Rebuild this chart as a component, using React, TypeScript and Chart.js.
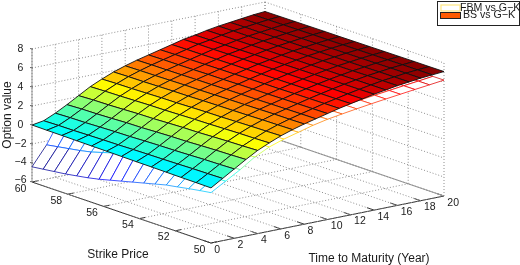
import React, { useEffect, useRef } from "react";
import { Chart, registerables } from "chart.js";

Chart.register(...registerables);

const bsStrikes = [50, 50.83, 51.67, 52.5, 53.33, 54.17, 55, 55.83, 56.67, 57.5, 58.33, 59.17, 60];
const bsMaturities = [0, 1, 2, 3, 4, 5, 6, 7, 8, 9, 10, 11, 12, 13, 14, 15, 16, 17, 18, 19, 20];
const fbmStrikes = [50, 50.625, 51.25, 51.875, 52.5, 53.125, 53.75, 54.375, 55, 55.625, 56.25, 56.875, 57.5, 58.125, 58.75, 59.375, 60];
const fbmMaturities = [0, 1.25, 2.5, 3.75, 5, 6.25, 7.5, 8.75, 10, 11.25, 12.5, 13.75, 15, 16.25, 17.5, 18.75, 20];
const strikeTicks = [50, 52, 54, 56, 58, 60];
const maturityTicks = [0, 2, 4, 6, 8, 10, 12, 14, 16, 18, 20];
const valueTicks = [-6, -4, -2, 0, 2, 4, 6, 8];

// "BS vs G-K": rows follow bsStrikes, columns follow bsMaturities
const bsVsGk = [
  [-.2,.55,1.3,2.05,2.75,3.3,3.8,4.2,4.55,4.85,5.15,5.45,5.7,5.95,6.2,6.4,6.6,6.75,6.9,7.0,7.1],
  [-.18,.52,1.25,1.99,2.69,3.25,3.76,4.17,4.52,4.83,5.13,5.43,5.68,5.94,6.18,6.39,6.59,6.74,6.89,6.99,7.09],
  [-.17,.5,1.22,1.95,2.65,3.23,3.73,4.15,4.51,4.81,5.11,5.41,5.67,5.93,6.17,6.38,6.58,6.73,6.88,6.99,7.09],
  [-.15,.46,1.16,1.89,2.59,3.18,3.69,4.11,4.48,4.79,5.09,5.39,5.65,5.91,6.15,6.36,6.56,6.71,6.86,6.98,7.08],
  [-.13,.43,1.11,1.82,2.52,3.13,3.64,4.08,4.45,4.76,5.06,5.36,5.63,5.9,6.13,6.35,6.55,6.7,6.85,6.97,7.07],
  [-.12,.41,1.08,1.79,2.49,3.1,3.62,4.06,4.43,4.75,5.05,5.35,5.62,5.89,6.12,6.34,6.54,6.69,6.84,6.96,7.06],
  [-.1,.38,1.03,1.73,2.43,3.05,3.58,4.03,4.4,4.73,5.03,5.33,5.6,5.88,6.1,6.33,6.53,6.68,6.83,6.95,7.05],
  [-.08,.34,.97,1.66,2.36,3.0,3.53,3.99,4.37,4.7,5.0,5.3,5.58,5.86,6.08,6.31,6.51,6.66,6.81,6.94,7.04],
  [-.07,.32,.94,1.63,2.33,2.98,3.51,3.97,4.36,4.69,4.99,5.29,5.57,5.85,6.07,6.3,6.5,6.65,6.8,6.94,7.04],
  [-.05,.29,.89,1.56,2.26,2.93,3.46,3.94,4.33,4.66,4.96,5.26,5.55,5.84,6.05,6.29,6.49,6.64,6.79,6.93,7.03],
  [-.03,.25,.83,1.5,2.2,2.88,3.42,3.9,4.3,4.64,4.94,5.24,5.53,5.82,6.03,6.27,6.47,6.62,6.77,6.92,7.02],
  [-.02,.24,.81,1.47,2.17,2.85,3.4,3.89,4.28,4.63,4.93,5.23,5.52,5.82,6.02,6.27,6.47,6.62,6.77,6.91,7.01],
  [0,.2,.75,1.4,2.1,2.8,3.35,3.85,4.25,4.6,4.9,5.2,5.5,5.8,6.0,6.25,6.45,6.6,6.75,6.9,7.0],
];

// "FBM vs G-K": rows follow fbmStrikes, columns follow fbmMaturities
const fbmVsGk = [
  [-.7,.2,1.1,2.12,2.87,3.39,3.8,4.22,4.55,4.8,5.03,5.25,5.45,5.64,5.83,6.01,6.2],
  [-.88,.15,1.04,2.05,2.81,3.34,3.76,4.18,4.52,4.77,5.01,5.24,5.44,5.63,5.82,6.0,6.19],
  [-1.08,.1,.98,1.98,2.75,3.29,3.72,4.15,4.49,4.75,4.99,5.22,5.43,5.63,5.82,6.0,6.19],
  [-1.3,.06,.92,1.92,2.69,3.25,3.69,4.11,4.46,4.72,4.97,5.21,5.42,5.62,5.81,5.99,6.18],
  [-1.5,.02,.86,1.85,2.63,3.2,3.65,4.08,4.43,4.69,4.95,5.2,5.41,5.62,5.81,5.99,6.18],
  [-1.8,-.03,.8,1.78,2.57,3.15,3.61,4.04,4.39,4.67,4.93,5.18,5.4,5.61,5.8,5.98,6.17],
  [-2.1,-.08,.74,1.71,2.51,3.1,3.58,4.01,4.36,4.64,4.91,5.17,5.39,5.6,5.79,5.97,6.16],
  [-2.4,-.15,.68,1.64,2.45,3.05,3.54,3.97,4.33,4.61,4.89,5.16,5.38,5.6,5.79,5.97,6.16],
  [-2.7,-.25,.62,1.57,2.39,3.0,3.5,3.94,4.3,4.59,4.88,5.15,5.38,5.59,5.78,5.96,6.15],
  [-3.0,-.5,.57,1.51,2.33,2.96,3.46,3.9,4.27,4.56,4.86,5.13,5.37,5.58,5.77,5.95,6.14],
  [-3.3,-.85,.51,1.44,2.26,2.91,3.43,3.87,4.24,4.53,4.84,5.12,5.36,5.58,5.77,5.95,6.14],
  [-3.55,-1.2,.45,1.37,2.2,2.86,3.39,3.83,4.21,4.5,4.82,5.11,5.35,5.57,5.76,5.94,6.13],
  [-3.75,-1.55,.39,1.3,2.14,2.81,3.35,3.8,4.18,4.48,4.8,5.09,5.34,5.57,5.76,5.94,6.13],
  [-3.95,-1.8,.33,1.23,2.08,2.76,3.31,3.76,4.14,4.45,4.78,5.08,5.33,5.56,5.75,5.93,6.12],
  [-4.1,-2.0,.27,1.17,2.02,2.72,3.28,3.73,4.11,4.42,4.76,5.07,5.32,5.55,5.74,5.92,6.11],
  [-4.25,-2.2,.21,1.1,1.96,2.67,3.24,3.69,4.08,4.4,4.74,5.05,5.31,5.55,5.74,5.92,6.11],
  [-4.4,-2.4,.15,1.03,1.9,2.62,3.2,3.66,4.05,4.37,4.72,5.04,5.3,5.54,5.73,5.91,6.1],
];

const FONT = '"Liberation Sans", Arial, sans-serif';
const MINUS = "\u2212";

// Oblique projection of (strike, maturity, value) onto the flat chart scales
function project(s: number, t: number, z: number) {
  return {
    x: 32 + 17.9 * (60 - s) + 11.65 * t,
    y: 182 + 6.1 * (60 - s) - 2.35 * t - 9.5 * (z + 6),
  };
}

const GAP = { x: NaN, y: NaN };

function dottedLines() {
  const pts: { x: number; y: number }[] = [];
  const add = (a: any, b: any) => pts.push(a, b, GAP);
  for (const s of strikeTicks) {
    add(project(s, 0, -6), project(s, 20, -6));
    add(project(s, 20, -6), project(s, 20, 8));
  }
  for (const t of maturityTicks) {
    add(project(50, t, -6), project(60, t, -6));
    add(project(60, t, -6), project(60, t, 8));
  }
  for (const z of valueTicks) {
    add(project(60, 0, z), project(60, 20, z));
    add(project(60, 20, z), project(50, 20, z));
  }
  return pts;
}

function tickLines() {
  const pts: { x: number; y: number }[] = [];
  for (const s of strikeTicks) pts.push(project(s, 0, -6), project(s, 0.5, -6), GAP);
  for (const t of maturityTicks) pts.push(project(50, t, -6), project(50.4, t, -6), GAP);
  return pts;
}

function surfacePoints(strikes: number[], times: number[], table: number[][]) {
  const pts: { x: number; y: number }[] = [];
  strikes.forEach((s, i) => times.forEach((t, j) => pts.push(project(s, t, table[i][j]))));
  return pts;
}

const CMIN = -4.4;
const CMAX = 7.1;
function jet(z: number) {
  const v = Math.max(0, Math.min(1, (z - CMIN) / (CMAX - CMIN)));
  const f = (center: number) => Math.max(0, Math.min(1, 1.5 - 4 * Math.abs(v - center)));
  return `rgb(${Math.round(f(0.75) * 255)},${Math.round(f(0.5) * 255)},${Math.round(f(0.25) * 255)})`;
}

const surfacePlugin = {
  id: "surfaces",
  afterDatasetsDraw(chart: any) {
    const ctx = chart.ctx as CanvasRenderingContext2D;
    const drawSurface = (index: number, table: number[][], nT: number, filled: boolean) => {
      const el = chart.getDatasetMeta(index).data;
      const at = (i: number, j: number) => el[i * nT + j];
      for (let i = table.length - 2; i >= 0; i--) {
        for (let j = nT - 2; j >= 0; j--) {
          const a = at(i, j), b = at(i, j + 1), c = at(i + 1, j + 1), d = at(i + 1, j);
          ctx.beginPath();
          ctx.moveTo(a.x, a.y);
          ctx.lineTo(b.x, b.y);
          ctx.lineTo(c.x, c.y);
          ctx.lineTo(d.x, d.y);
          ctx.closePath();
          if (filled) {
            ctx.fillStyle = jet(table[i][j]);
            ctx.fill();
            ctx.strokeStyle = "#111";
            ctx.lineWidth = 0.9;
            ctx.stroke();
          } else {
            ctx.fillStyle = "#fff";
            ctx.fill();
            ctx.lineWidth = 1;
            ctx.globalAlpha = 0.75;
            const edge = (p: any, q: any, z: number) => {
              ctx.beginPath();
              ctx.moveTo(p.x, p.y);
              ctx.lineTo(q.x, q.y);
              ctx.strokeStyle = jet(z);
              ctx.stroke();
            };
            edge(d, c, table[i + 1][j]);
            edge(b, c, table[i][j + 1]);
            edge(a, b, table[i][j]);
            edge(a, d, table[i][j]);
            ctx.globalAlpha = 1;
          }
        }
      }
    };
    ctx.save();
    drawSurface(3, fbmVsGk, fbmMaturities.length, false);
    drawSurface(4, bsVsGk, bsMaturities.length, true);
    ctx.restore();
  },
  afterDraw(chart: any) {
    const ctx = chart.ctx as CanvasRenderingContext2D;
    const xs = chart.scales.x;
    const ys = chart.scales.y;
    const px = (p: { x: number; y: number }) => ({ x: xs.getPixelForValue(p.x), y: ys.getPixelForValue(p.y) });
    const fmt = (v: number) => (v < 0 ? MINUS + Math.abs(v) : String(v));
    ctx.save();
    ctx.fillStyle = "#1a1a1a";
    ctx.textBaseline = "middle";
    ctx.font = `10.5px ${FONT}`;
    ctx.textAlign = "center";
    for (const s of strikeTicks) {
      const p = px(project(s, 0, -6));
      ctx.fillText(fmt(s), p.x - 11.5, p.y + 6.8);
    }
    ctx.textAlign = "left";
    for (const t of maturityTicks) {
      const p = px(project(50, t, -6));
      ctx.fillText(fmt(t), p.x + 3.3, p.y + 6.8);
    }
    ctx.textAlign = "center";
    for (const z of valueTicks) {
      const p = px(project(60, 0, z));
      const nudge = z === -6 ? -2 : z === -4 ? -1 : 0;
      ctx.fillText(fmt(z), p.x - 11.5, p.y + nudge);
      ctx.strokeStyle = "#666";
      ctx.lineWidth = 1;
      ctx.beginPath();
      ctx.moveTo(p.x - 2, p.y - 0.5);
      ctx.lineTo(p.x + 1, p.y);
      ctx.stroke();
    }
    ctx.font = `12px ${FONT}`;
    ctx.fillText("Strike Price", 118, 255);
    ctx.fillText("Time to Maturity (Year)", 369, 259);
    ctx.translate(8, 115);
    ctx.rotate(-Math.PI / 2);
    ctx.fillText("Option value", 0, 0);
    ctx.restore();

    // legend
    ctx.save();
    ctx.fillStyle = "#fff";
    ctx.strokeStyle = "#222";
    ctx.lineWidth = 1;
    ctx.fillRect(437.5, 1.5, 82, 24);
    ctx.strokeRect(437.5, 1.5, 82, 24);
    ctx.strokeStyle = "#ffe680";
    ctx.lineWidth = 1.2;
    ctx.strokeRect(441, 5, 19, 6);
    ctx.fillStyle = "#ff5a00";
    ctx.fillRect(441, 13, 19, 5);
    ctx.strokeStyle = "#222";
    ctx.lineWidth = 1;
    ctx.strokeRect(440.5, 12.5, 20, 6);
    ctx.fillStyle = "#1a1a1a";
    ctx.font = `10.6px ${FONT}`;
    ctx.textBaseline = "middle";
    ctx.textAlign = "left";
    ctx.fillText(`FBM vs G${MINUS}K`, 460, 8.5);
    ctx.fillText(`BS vs G${MINUS}K`, 463, 15.5);
    ctx.restore();
  },
};

export default function App() {
  const ref = useRef<HTMLCanvasElement>(null);
  useEffect(() => {
    const chart = new Chart(ref.current!, {
      type: "scatter",
      data: {
        datasets: [
          {
            label: "grid",
            data: dottedLines(),
            showLine: true,
            spanGaps: false,
            pointRadius: 0,
            borderColor: "#8e8e8e",
            borderWidth: 1,
            borderDash: [1, 2],
          },
          {
            label: "box",
            data: [project(60, 20, -6), project(50, 20, -6), GAP, project(60, 0, -6), project(60, 0, 8)],
            showLine: true,
            spanGaps: false,
            pointRadius: 0,
            borderColor: "#a5a5a5",
            borderWidth: 1.2,
          },
          {
            label: "axes",
            data: [project(60, 0, -6), project(50, 0, -6), project(50, 20, -6), GAP, ...tickLines()],
            showLine: true,
            spanGaps: false,
            pointRadius: 0,
            borderColor: "#2e2e2e",
            borderWidth: 1,
          },
          { label: "FBM vs G-K", data: surfacePoints(fbmStrikes, fbmMaturities, fbmVsGk), showLine: false, pointRadius: 0 },
          { label: "BS vs G-K", data: surfacePoints(bsStrikes, bsMaturities, bsVsGk), showLine: false, pointRadius: 0 },
        ],
      },
      options: {
        animation: false,
        responsive: false,
        layout: { padding: 0 },
        plugins: { legend: { display: false }, tooltip: { enabled: false } },
        events: [],
        scales: {
          x: { type: "linear", display: false, min: 0, max: 520 },
          y: { type: "linear", display: false, min: 0, max: 265, reverse: true },
        },
      },
      plugins: [surfacePlugin],
    } as any);
    return () => chart.destroy();
  }, []);
  return (
    <div style={{ position: "fixed", left: 0, top: 0, width: 520, height: 265, background: "#fff" }}>
      <canvas ref={ref} width={520} height={265} style={{ display: "block" }} />
    </div>
  );
}
